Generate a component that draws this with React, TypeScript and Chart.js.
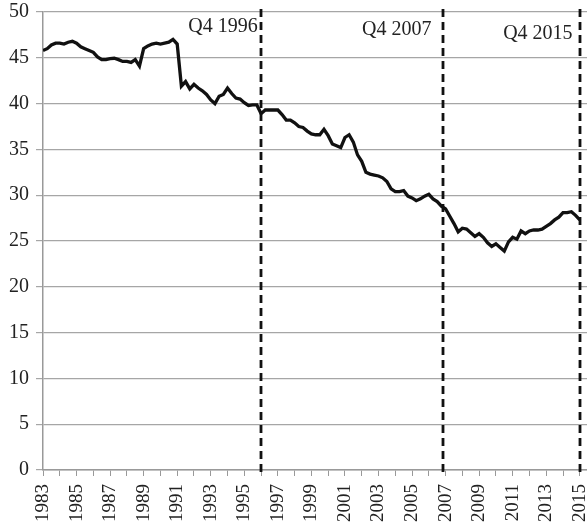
import React, { useEffect, useRef } from "react";
import { Chart, registerables } from "chart.js";

Chart.register(...registerables);

// Quarterly series, 1983 Q1 onwards
const startYear = 1983;
const values: number[] = [
  45.8, 46.0, 46.4, 46.6, 46.6, 46.5, 46.7, 46.8, 46.6, 46.2,
  46.0, 45.8, 45.6, 45.1, 44.8, 44.8, 44.9, 44.95, 44.8, 44.6,
  44.6, 44.5, 44.8, 44.1, 46.0, 46.3, 46.5, 46.6, 46.5, 46.6,
  46.7, 47.0, 46.5, 41.9, 42.4, 41.6, 42.1, 41.7, 41.4, 41.0,
  40.4, 40.0, 40.8, 41.0, 41.7, 41.1, 40.6, 40.5, 40.1, 39.8,
  39.85, 39.85, 38.9, 39.3, 39.3, 39.3, 39.3, 38.8, 38.2, 38.2,
  37.9, 37.5, 37.4, 37.0, 36.7, 36.6, 36.6, 37.2, 36.5, 35.6,
  35.4, 35.2, 36.3, 36.6, 35.8, 34.4, 33.7, 32.5, 32.3, 32.2,
  32.1, 31.9, 31.5, 30.7, 30.4, 30.4, 30.5, 29.9, 29.7, 29.4,
  29.6, 29.9, 30.1, 29.6, 29.3, 28.8, 28.5, 27.7, 26.9, 26.0,
  26.4, 26.3, 25.9, 25.5, 25.8, 25.4, 24.8, 24.4, 24.7, 24.3,
  23.9, 24.9, 25.4, 25.2, 26.1, 25.8, 26.1, 26.2, 26.2, 26.3,
  26.6, 26.9, 27.3, 27.6, 28.1, 28.1, 28.2, 27.8, 27.3,
];

const yTicks: number[] = [0, 5, 10, 15, 20, 25, 30, 35, 40, 45, 50];
const yearTicks: number[] = Array.from({ length: 33 }, (_, i) => 1983 + i);

const markerYears: number[] = [1996.0, 2006.82, 2015.0];
const markerLabels: string[] = ["Q4 1996", "Q4 2007", "Q4 2015"];
const markerLabelX: number[] = [1995.8, 2006.16, 2014.57];
const markerLabelY: number[] = [47.8, 47.45, 47.0];

const FONT = "'Liberation Serif', 'Times New Roman', serif";

export default function App() {
  const ref = useRef<HTMLCanvasElement | null>(null);

  useEffect(() => {
    document.body.style.margin = "0";
    const canvas = ref.current;
    if (!canvas) return;
    const points = values.map((v, i) => ({ x: startYear + i * 0.25, y: v }));

    const markerPlugin = {
      id: "markers",
      afterDraw(chart: any) {
        const { ctx, chartArea, scales } = chart;
        const xs = scales.x;
        const ys = scales.y;
        ctx.save();
        ctx.strokeStyle = "#111";
        ctx.lineWidth = 2.8;
        ctx.setLineDash([8, 5]);
        markerYears.forEach((yr) => {
          const px = Math.round(xs.getPixelForValue(yr));
          ctx.beginPath();
          ctx.moveTo(px, chartArea.top - 3);
          ctx.lineTo(px, chartArea.bottom + 7);
          ctx.stroke();
        });
        ctx.setLineDash([]);
        ctx.fillStyle = "#222";
        ctx.font = `20px ${FONT}`;
        ctx.textAlign = "right";
        ctx.textBaseline = "alphabetic";
        markerLabels.forEach((t, i) => {
          ctx.fillText(t, xs.getPixelForValue(markerLabelX[i]), ys.getPixelForValue(markerLabelY[i]));
        });
        ctx.restore();
      },
    };

    const chart = new Chart(canvas, {
      type: "line",
      data: {
        datasets: [
          {
            data: points,
            borderColor: "#111",
            borderWidth: 3.3,
            pointRadius: 0,
            tension: 0,
            fill: false,
          },
        ],
      },
      options: {
        animation: false,
        responsive: true,
        maintainAspectRatio: false,
        layout: { padding: { top: 12, right: 0, left: 0, bottom: 0 } },
        plugins: { legend: { display: false }, tooltip: { enabled: false } },
        scales: {
          x: {
            type: "linear",
            min: 1983,
            max: 2015.43,
            afterBuildTicks: (scale: any) => {
              scale.ticks = yearTicks.map((v) => ({ value: v }));
            },
            afterFit: (scale: any) => {
              scale.height = 58;
              scale.paddingLeft = 0;
              scale.paddingRight = 0;
            },
            ticks: {
              autoSkip: false,
              minRotation: 90,
              maxRotation: 90,
              padding: 8,
              color: "#222",
              font: { family: FONT, size: 19 },
              callback: (v: any) => ((Number(v) - 1983) % 2 === 0 ? String(v) : ""),
            },
            grid: {
              display: true,
              drawOnChartArea: false,
              drawTicks: true,
              tickLength: 6,
              color: "#999",
            },
            border: { display: true, color: "#999", width: 1.5 },
          },
          y: {
            min: 0,
            max: 50,
            afterBuildTicks: (scale: any) => {
              scale.ticks = yTicks.map((v) => ({ value: v }));
            },
            afterFit: (scale: any) => {
              scale.width = 43;
              scale.paddingTop = 0;
              scale.paddingBottom = 0;
            },
            ticks: {
              padding: 7,
              color: "#222",
              font: { family: FONT, size: 20 },
            },
            grid: {
              color: "#a6a6a6",
              lineWidth: 1.2,
              tickLength: 7,
              drawTicks: true,
            },
            border: { display: true, color: "#999", width: 1.5 },
          },
        },
      },
      plugins: [markerPlugin],
    });
    return () => chart.destroy();
  }, []);

  return (
    <div style={{ position: "relative", width: 587, height: 528 }}>
      <canvas ref={ref} />
    </div>
  );
}
